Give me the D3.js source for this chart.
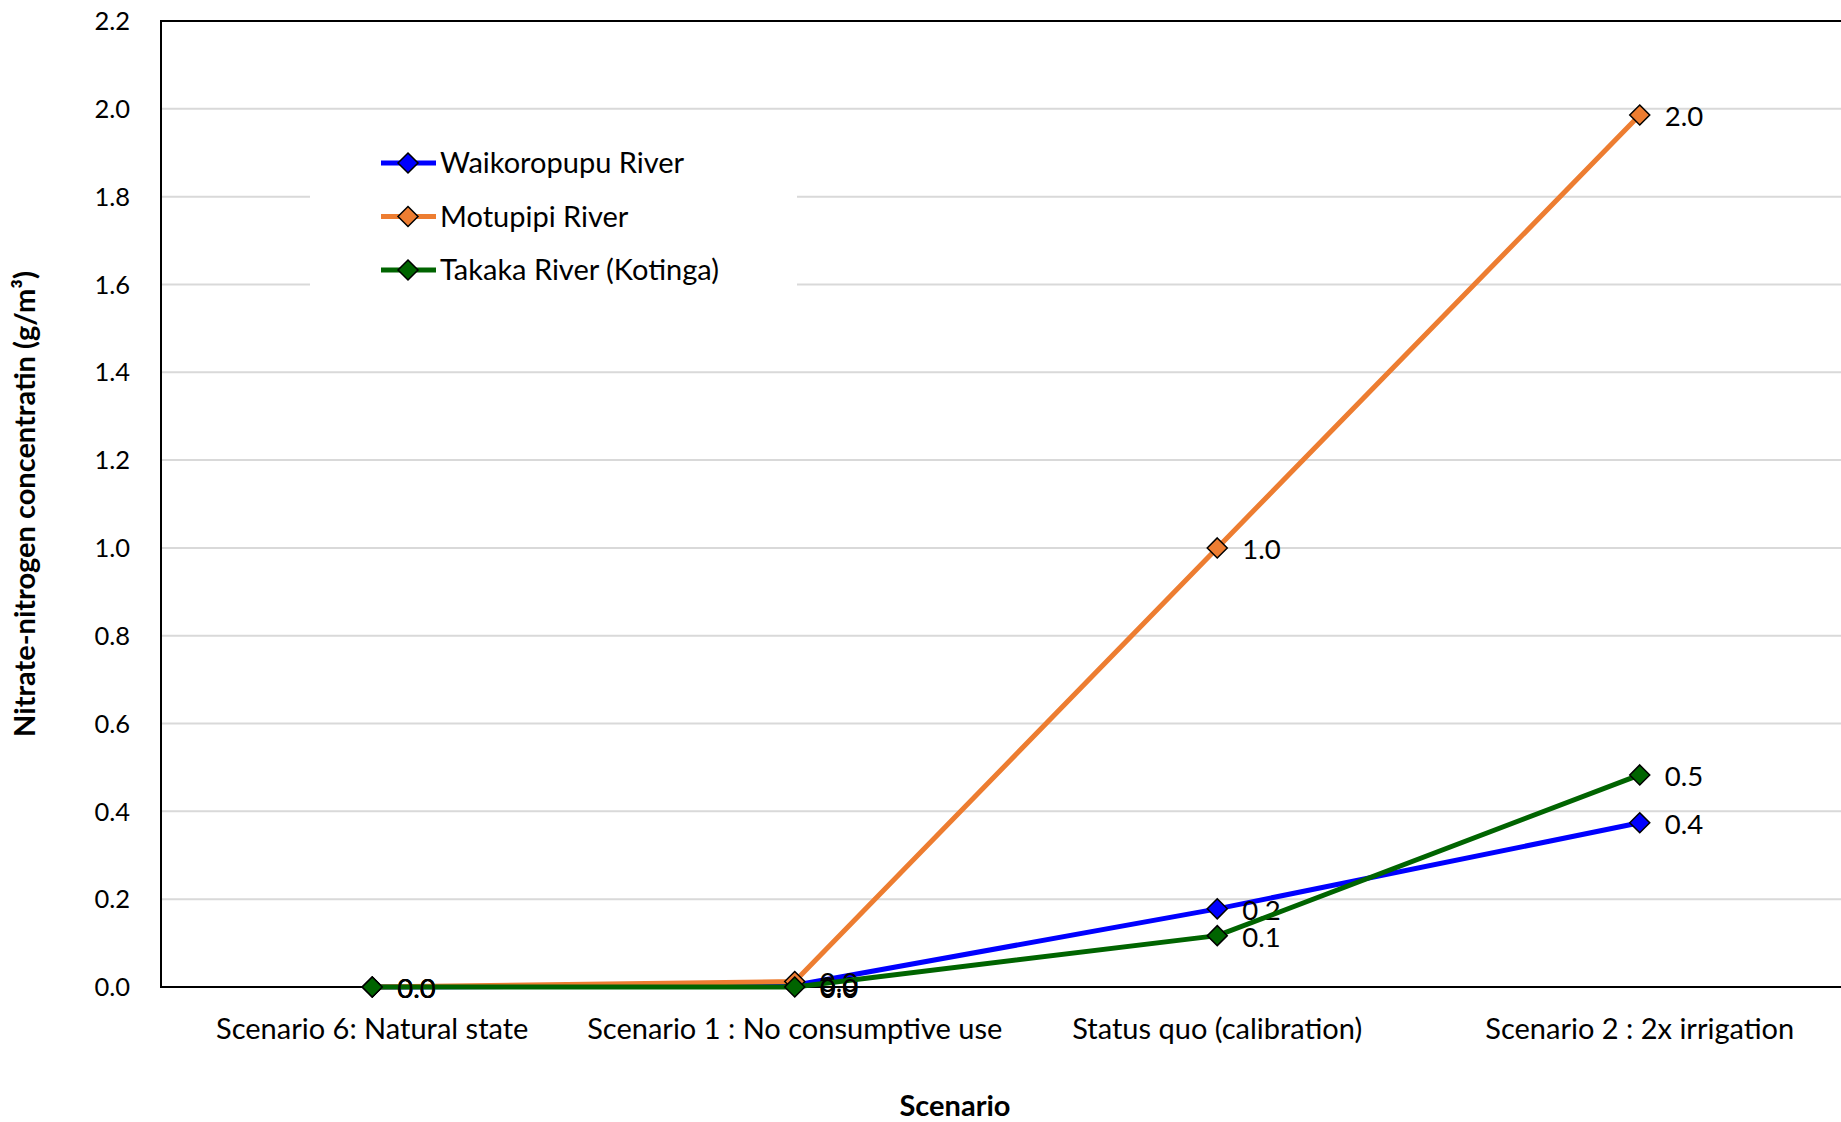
<!DOCTYPE html>
<html lang="en">
<head>
    <meta charset="UTF-8">
    <title>Nitrate-nitrogen concentration by scenario</title>
    <script src="https://d3js.org/d3.v7.min.js"></script>
    <style>
        body { margin: 0; background: #fff; }
        svg { display: block; font-family: Lato, "Open Sans", sans-serif; }
    </style>
</head>
<body>
<div id="chart"></div>
<script>
    const scenarios = [
        "Scenario 6: Natural state",
        "Scenario 1 : No consumptive use",
        "Status quo (calibration)",
        "Scenario 2 : 2x irrigation"
    ];
    const waikoropupu = [0.0, 0.004, 0.178, 0.374];
    const motupipi = [0.0, 0.0125, 1.0, 1.986];
    const takaka = [0.0, 0.0, 0.117, 0.483];
    const yTicks = [0.0, 0.2, 0.4, 0.6, 0.8, 1.0, 1.2, 1.4, 1.6, 1.8, 2.0, 2.2];

    const series = [
        {name: "Waikoropupu River", values: waikoropupu, color: "#0000ff"},
        {name: "Motupipi River", values: motupipi, color: "#ed7d31"},
        {name: "Takaka River (Kotinga)", values: takaka, color: "#006400"}
    ];

    const width = 1841, height = 1122;
    const plot = {left: 161, top: 21, right: 1851, bottom: 987};

    const svg = d3.select("#chart")
        .append("svg")
        .attr("width", width)
        .attr("height", height);

    const x = d3.scalePoint()
        .domain(scenarios)
        .range([plot.left, plot.right])
        .padding(0.5);

    const y = d3.scaleLinear()
        .domain([0, 2.2])
        .range([plot.bottom, plot.top]);

    // gridlines
    svg.append("g")
        .selectAll("line")
        .data(yTicks.filter(d => d > 0 && d < 2.2))
        .join("line")
        .attr("x1", plot.left)
        .attr("x2", plot.right)
        .attr("y1", d => y(d))
        .attr("y2", d => y(d))
        .attr("stroke", "#d9d9d9")
        .attr("stroke-width", 2);

    // y tick labels
    svg.append("g")
        .selectAll("text")
        .data(yTicks)
        .join("text")
        .attr("x", 130)
        .attr("y", d => y(d))
        .attr("dy", "0.36em")
        .attr("text-anchor", "end")
        .attr("font-size", 25.5)
        .attr("fill", "#000")
        .text(d => d.toFixed(1));

    // category labels
    svg.append("g")
        .selectAll("text")
        .data(scenarios)
        .join("text")
        .attr("x", d => x(d))
        .attr("y", 1029)
        .attr("dy", "0.36em")
        .attr("text-anchor", "middle")
        .attr("font-size", 29)
        .text(d => d);

    // legend background hides gridlines behind it
    svg.append("rect")
        .attr("x", 310)
        .attr("y", 120)
        .attr("width", 487)
        .attr("height", 200)
        .attr("fill", "#fff");

    // plot border
    svg.append("rect")
        .attr("x", plot.left)
        .attr("y", plot.top)
        .attr("width", plot.right - plot.left)
        .attr("height", plot.bottom - plot.top)
        .attr("fill", "none")
        .attr("stroke", "#000")
        .attr("stroke-width", 2);

    const line = d3.line()
        .x((d, i) => x(scenarios[i]))
        .y(d => y(d));

    const diamond = r => `M0,${-r}L${r},0L0,${r}L${-r},0Z`;

    series.forEach(s => {
        const g = svg.append("g");
        g.append("path")
            .attr("d", line(s.values))
            .attr("fill", "none")
            .attr("stroke", s.color)
            .attr("stroke-width", 5)
            .attr("stroke-linejoin", "round");

        g.selectAll("path.marker")
            .data(s.values)
            .join("path")
            .attr("class", "marker")
            .attr("transform", (d, i) => `translate(${x(scenarios[i])},${y(d)})`)
            .attr("d", diamond(10))
            .attr("fill", s.color)
            .attr("stroke", "#000")
            .attr("stroke-width", 1.5);

        g.selectAll("text")
            .data(s.values)
            .join("text")
            .attr("x", (d, i) => x(scenarios[i]) + 25)
            .attr("y", d => y(d) + 1)
            .attr("dy", "0.36em")
            .attr("font-size", 27.5)
            .text(d => d.toFixed(1));
    });

    // legend
    const legend = svg.append("g");
    series.forEach((s, i) => {
        const ly = 163 + i * 53.5;
        legend.append("line")
            .attr("x1", 381).attr("x2", 436)
            .attr("y1", ly).attr("y2", ly)
            .attr("stroke", s.color)
            .attr("stroke-width", 5);
        legend.append("path")
            .attr("transform", `translate(408,${ly})`)
            .attr("d", diamond(10))
            .attr("fill", s.color)
            .attr("stroke", "#000")
            .attr("stroke-width", 1.5);
        legend.append("text")
            .attr("x", 440)
            .attr("y", ly)
            .attr("dy", "0.36em")
            .attr("font-size", 29)
            .text(s.name);
    });

    // axis titles
    svg.append("text")
        .attr("transform", `translate(35,${(plot.top + plot.bottom) / 2}) rotate(-90)`)
        .attr("text-anchor", "middle")
        .attr("font-size", 29)
        .attr("font-weight", "bold")
        .text("Nitrate-nitrogen concentratin (g/m³)");

    svg.append("text")
        .attr("x", 955)
        .attr("y", 1106)
        .attr("dy", "0.36em")
        .attr("text-anchor", "middle")
        .attr("font-size", 29)
        .attr("font-weight", "bold")
        .text("Scenario");
</script>
</body>
</html>
